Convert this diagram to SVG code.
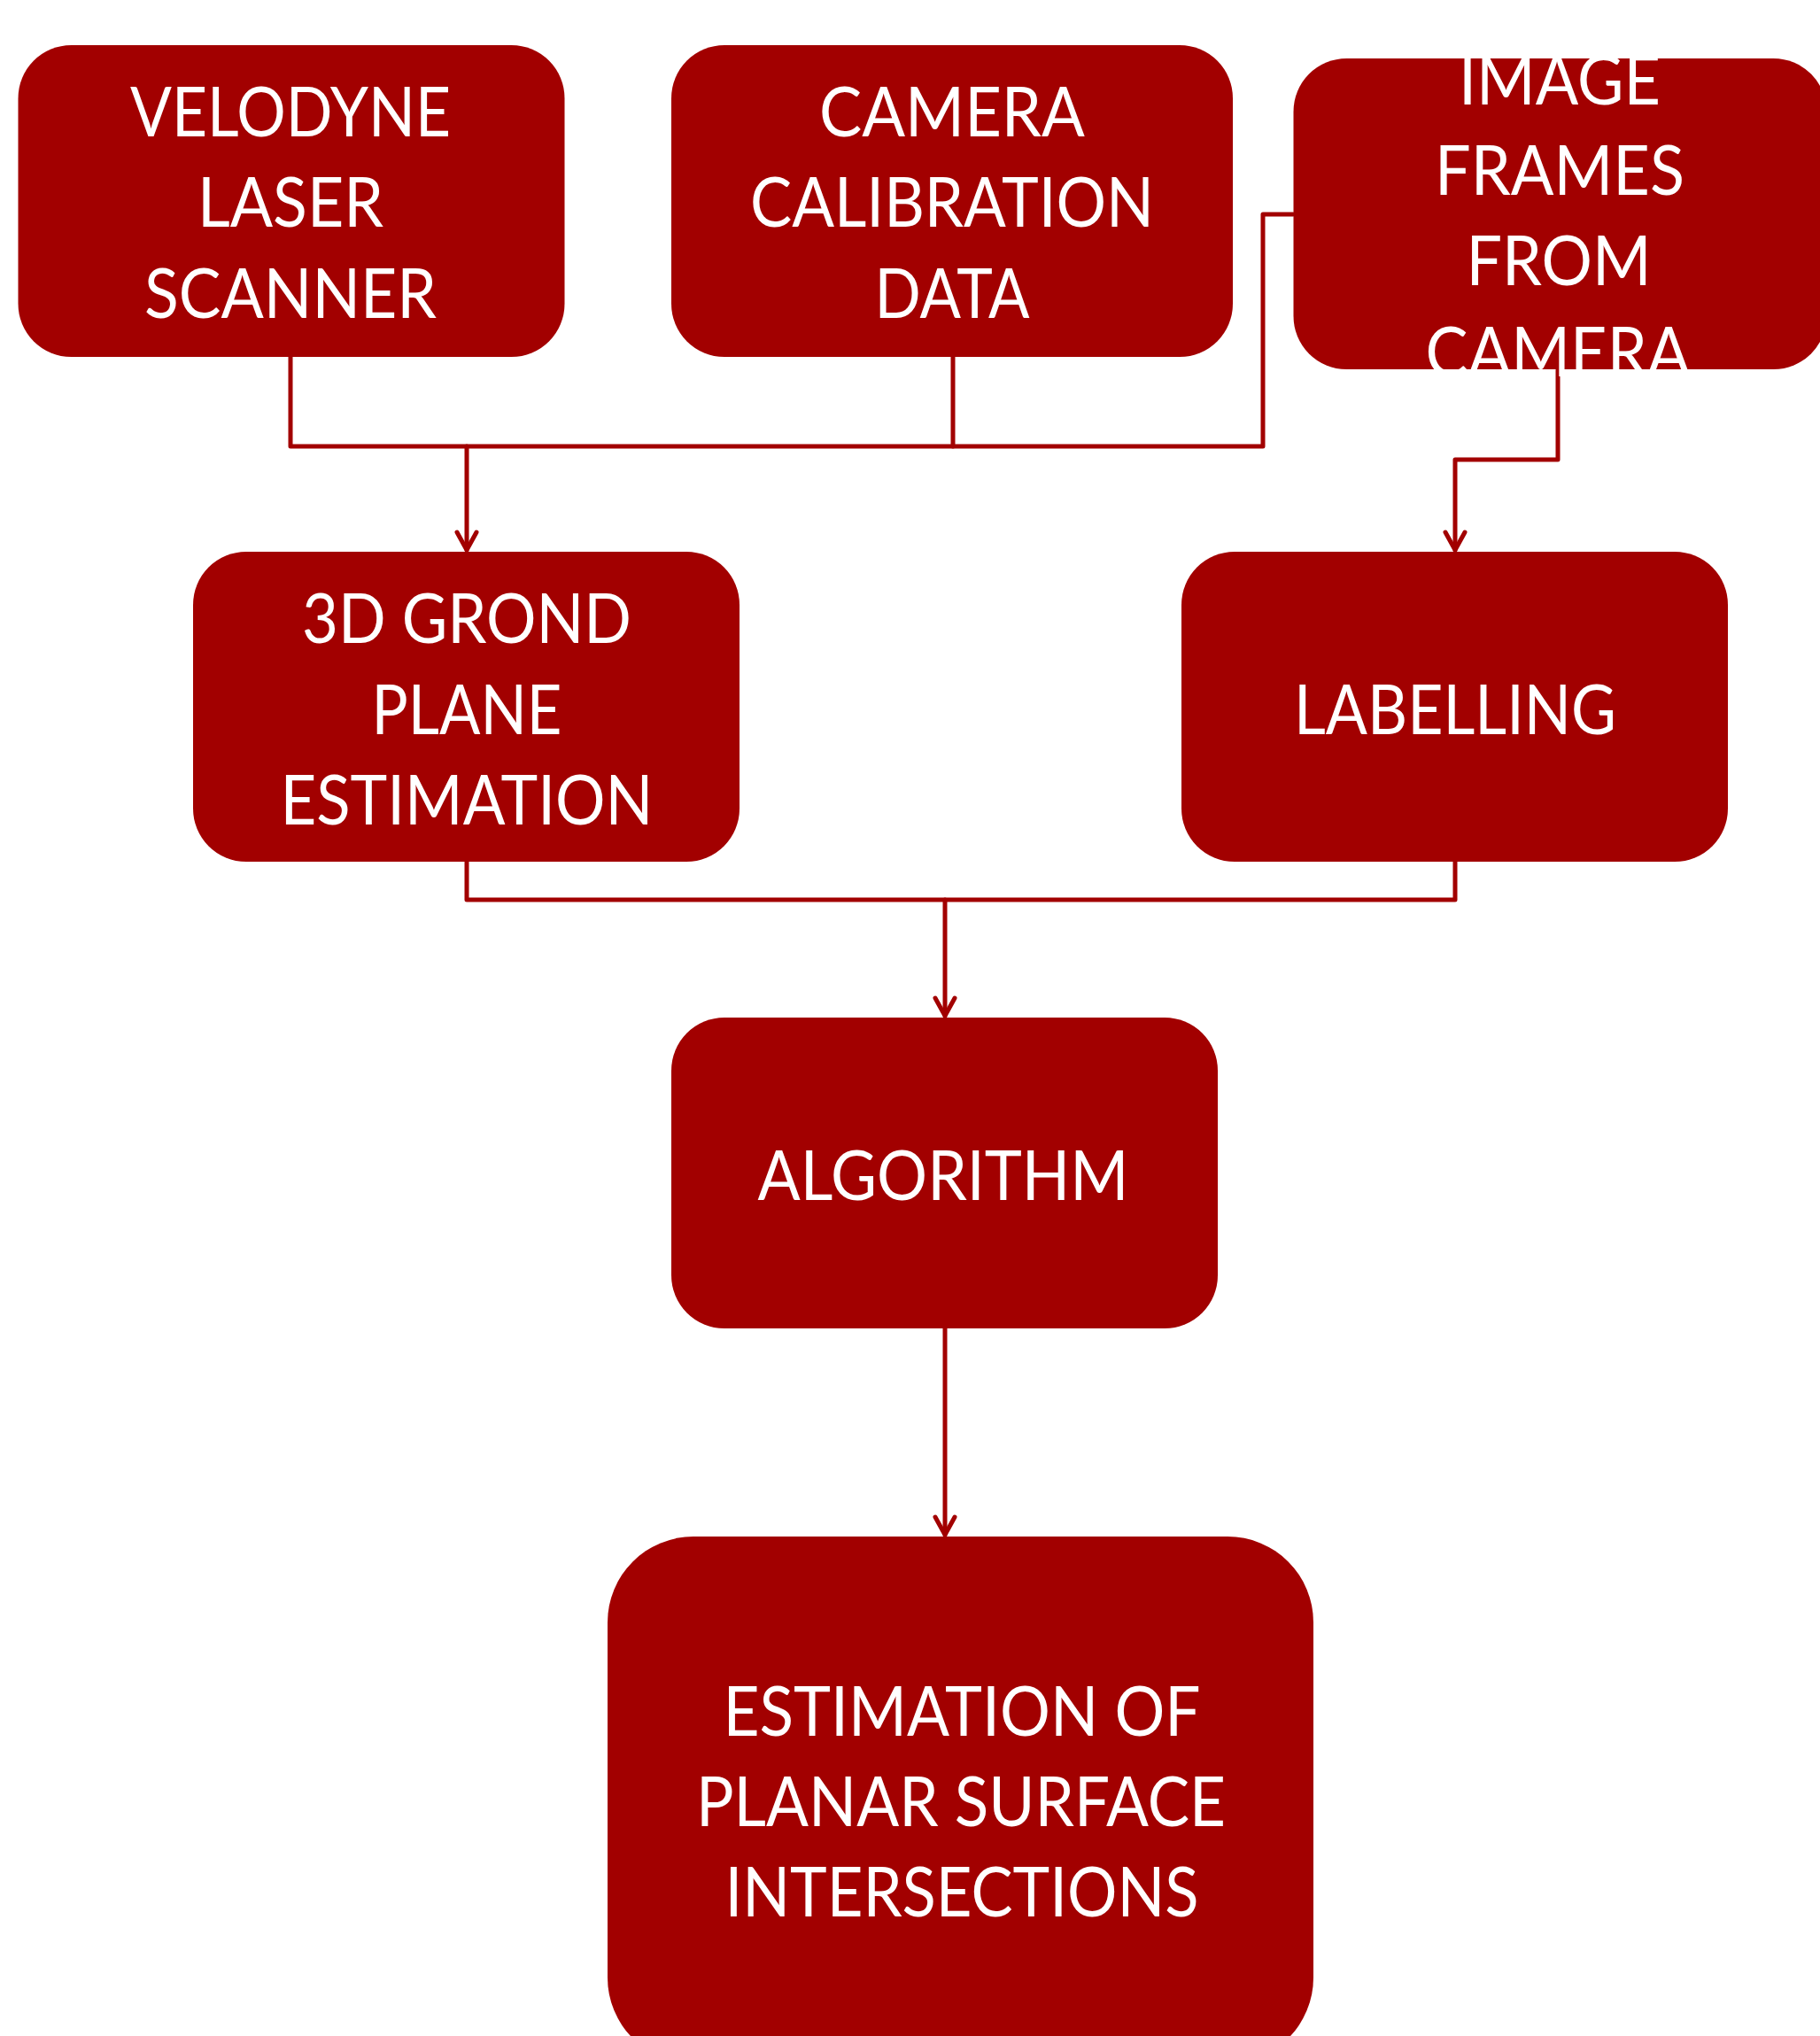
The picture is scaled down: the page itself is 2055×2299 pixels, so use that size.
<svg xmlns="http://www.w3.org/2000/svg" width="2055" height="2299" viewBox="0 0 2055 2299">
<defs>
<style>
.box{fill:#a20000;}
.t{font-family:Lato,"Open Sans","Liberation Sans",sans-serif;font-size:77px;fill:#ffffff;text-anchor:middle;}
.c{fill:none;stroke:#a20000;stroke-width:5;stroke-linecap:round;stroke-linejoin:round;}
</style>
<marker id="arr" markerUnits="userSpaceOnUse" orient="auto" markerWidth="30" markerHeight="30" refX="0" refY="0" overflow="visible">
<path d="M-20,-11 L0,0 L-20,11" fill="none" stroke="#a20000" stroke-width="5" stroke-linecap="round" stroke-linejoin="round"/>
</marker>
</defs>
<rect width="2055" height="2299" fill="#ffffff"/>
<g id="connectors">
<polyline class="c" points="328,403 328,504 1426,504 1426,242 1460,242"/>
<line class="c" x1="1076" y1="403" x2="1076" y2="504"/>
<line class="c" x1="527" y1="504" x2="527" y2="621" marker-end="url(#arr)"/>
<polyline class="c" points="1759,418 1759,519 1643,519 1643,621" marker-end="url(#arr)"/>
<polyline class="c" points="527,973 527,1016 1643,1016 1643,973"/>
<line class="c" x1="1067" y1="1016" x2="1067" y2="1147" marker-end="url(#arr)"/>
<line class="c" x1="1067" y1="1500" x2="1067" y2="1733" marker-end="url(#arr)"/>
</g>
<g id="velodyne">
<rect class="box" x="20.5" y="51" width="617" height="352" rx="60" ry="60"/>
<text class="t" x="328" y="154" textLength="362" lengthAdjust="spacingAndGlyphs">VELODYNE</text>
<text class="t" x="328" y="256" textLength="210" lengthAdjust="spacingAndGlyphs">LASER</text>
<text class="t" x="328" y="359" textLength="330" lengthAdjust="spacingAndGlyphs">SCANNER</text>
</g>
<g id="calibration">
<rect class="box" x="758" y="51" width="634" height="352" rx="60" ry="60"/>
<text class="t" x="1075" y="154" textLength="300" lengthAdjust="spacingAndGlyphs">CAMERA</text>
<text class="t" x="1075" y="256" textLength="456" lengthAdjust="spacingAndGlyphs">CALIBRATION</text>
<text class="t" x="1075" y="359" textLength="175" lengthAdjust="spacingAndGlyphs">DATA</text>
</g>
<g id="frames">
<rect class="box" x="1460.5" y="66" width="602" height="351" rx="60" ry="60"/>
<text class="t" x="1761" y="118" textLength="228" lengthAdjust="spacingAndGlyphs">IMAGE</text>
<text class="t" x="1761" y="220" textLength="282" lengthAdjust="spacingAndGlyphs">FRAMES</text>
<text class="t" x="1760" y="322" textLength="209" lengthAdjust="spacingAndGlyphs">FROM</text>
<text class="t" x="1759" y="425" textLength="299" lengthAdjust="spacingAndGlyphs">CAMERA</text>
</g>
<g id="ground">
<rect class="box" x="218" y="623" width="617" height="350" rx="60" ry="60"/>
<text class="t" x="527" y="726" textLength="372" lengthAdjust="spacingAndGlyphs">3D GROND</text>
<text class="t" x="527" y="829" textLength="215" lengthAdjust="spacingAndGlyphs">PLANE</text>
<text class="t" x="527" y="931" textLength="421" lengthAdjust="spacingAndGlyphs">ESTIMATION</text>
</g>
<g id="labelling">
<rect class="box" x="1334" y="623" width="617" height="350" rx="60" ry="60"/>
<text class="t" x="1643" y="829" textLength="364" lengthAdjust="spacingAndGlyphs">LABELLING</text>
</g>
<g id="algorithm">
<rect class="box" x="758" y="1149" width="617" height="351" rx="60" ry="60"/>
<text class="t" x="1065" y="1355" textLength="419" lengthAdjust="spacingAndGlyphs">ALGORITHM</text>
</g>
<g id="estimation">
<rect class="box" x="686" y="1735" width="797" height="595" rx="97" ry="97"/>
<text class="t" x="1086" y="1960" textLength="539" lengthAdjust="spacingAndGlyphs">ESTIMATION OF</text>
<text class="t" x="1085" y="2062" textLength="598" lengthAdjust="spacingAndGlyphs">PLANAR SURFACE</text>
<text class="t" x="1086" y="2164" textLength="535" lengthAdjust="spacingAndGlyphs">INTERSECTIONS</text>
</g>
</svg>
